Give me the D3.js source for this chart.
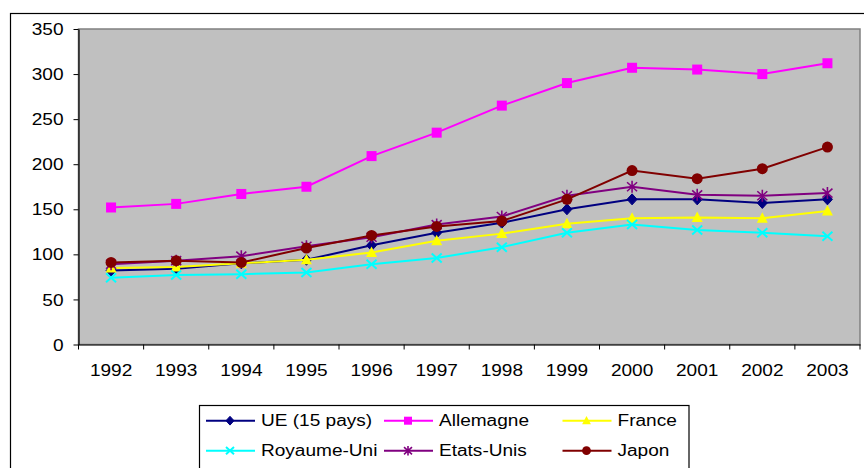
<!DOCTYPE html>
<html><head><meta charset="utf-8">
<script src="https://cdn.jsdelivr.net/npm/d3@7"></script>
<style>
html,body{margin:0;padding:0;background:#fff;}
svg{display:block;}
text{font-family:"Liberation Sans",Arial,sans-serif;font-size:16px;fill:#000;}
</style></head>
<body>
<svg id="c" width="864" height="468"></svg>
<script>
const years = ["1992","1993","1994","1995","1996","1997","1998","1999","2000","2001","2002","2003"];
const yTicks = [0,50,100,150,200,250,300,350];
const ue        = [82, 84, 90, 94, 110, 124, 135, 150, 161, 161, 157, 161];
const allemagne = [152, 156, 167, 175, 209, 235, 265, 290, 307, 305, 300, 312];
const france    = [85, 86, 90, 94, 102, 115, 123, 134, 140, 141, 140, 148];
const royaumeUni= [74, 77, 78, 80, 89, 96, 108, 124, 133, 127, 124, 120];
const etatsUnis = [89, 93, 98, 109, 119, 133, 142, 165, 175, 166, 165, 168];
const japon     = [91, 93, 91, 107, 121, 131, 137, 161, 193, 184, 195, 219];
const seriesNames = ["UE (15 pays)","Allemagne","France","Royaume-Uni","Etats-Unis","Japon"];

const series = [
  {name:seriesNames[0], values:ue,        color:"#000080", marker:"diamond"},
  {name:seriesNames[1], values:allemagne, color:"#FF00FF", marker:"square"},
  {name:seriesNames[2], values:france,    color:"#FFFF00", marker:"triangle"},
  {name:seriesNames[3], values:royaumeUni,color:"#00FFFF", marker:"x"},
  {name:seriesNames[4], values:etatsUnis, color:"#800080", marker:"star"},
  {name:seriesNames[5], values:japon,     color:"#800000", marker:"circle"}
];

const svg = d3.select("#c");
const STRETCH = 1.19;
function stretch(sel){
  sel.each(function(){
    const w = this.getComputedTextLength();
    d3.select(this).attr("textLength", w*STRETCH).attr("lengthAdjust","spacingAndGlyphs");
  });
}

// outer frame
svg.append("rect").attr("x",10.5).attr("y",13.5).attr("width",900).attr("height",600)
  .attr("fill","#fff").attr("stroke","#000").attr("stroke-width",1.2);

const L = 78.5, R = 860, T = 29, B = 344.5;
const x = d3.scaleBand().domain(years).range([L,R]).paddingInner(0).paddingOuter(0);
const y = d3.scaleLinear().domain([0,350]).range([B,T]);

// plot area
svg.append("rect").attr("x",L).attr("y",T).attr("width",R-L).attr("height",B-T)
  .attr("fill","#C0C0C0").attr("stroke","#808080").attr("stroke-width",1.5);

// y axis
const yAxis = svg.append("g").attr("transform",`translate(${L},0)`)
  .call(d3.axisLeft(y).tickValues(yTicks).tickSize(5).tickPadding(10).tickSizeOuter(0));
yAxis.select(".domain").attr("stroke","#000").attr("stroke-width",1.2);
yAxis.selectAll(".tick line").attr("stroke","#000");
yAxis.selectAll("text").attr("font-size",16).attr("font-family","Liberation Sans, Arial, sans-serif").attr("dy","0.35em").call(stretch);

// x axis
const xAxis = svg.append("g").attr("transform",`translate(0,${B})`)
  .call(d3.axisBottom(x).tickSize(0).tickPadding(0).tickSizeOuter(0));
xAxis.select(".domain").attr("stroke","#000").attr("stroke-width",1.2);
xAxis.selectAll(".tick").attr("transform", d => `translate(${x(d)+x.bandwidth()/2},0)`);
xAxis.selectAll("text").attr("y",31).attr("dy",0).attr("font-size",16)
  .attr("font-family","Liberation Sans, Arial, sans-serif").call(stretch);
const bounds = years.map(d => x(d)).concat([x(years[years.length-1])+x.bandwidth()]);
xAxis.selectAll(".bt").data(bounds).enter().append("line")
  .attr("x1",d=>d).attr("x2",d=>d).attr("y1",0).attr("y2",5).attr("stroke","#000");

function drawMarker(g, type, color, s){
  s = s || 1;
  if(type==="diamond"){
    g.append("path").attr("d",`M0,${-5.5*s}L${5*s},0L0,${5.5*s}L${-5*s},0Z`).attr("fill",color).attr("stroke",color);
  } else if(type==="square"){
    g.append("rect").attr("x",-5*s).attr("y",-5*s).attr("width",10*s).attr("height",10*s).attr("fill",color);
  } else if(type==="triangle"){
    g.append("path").attr("d",`M0,${-6*s}L${5.5*s},${4.5*s}L${-5.5*s},${4.5*s}Z`).attr("fill",color);
  } else if(type==="x"){
    g.append("path").attr("d",`M${-5*s},${-4.5*s}L${5*s},${4.5*s}M${-5*s},${4.5*s}L${5*s},${-4.5*s}`).attr("stroke",color).attr("stroke-width",2).attr("fill","none");
  } else if(type==="star"){
    g.append("path").attr("d",`M${-5*s},${-4.5*s}L${5*s},${4.5*s}M${-5*s},${4.5*s}L${5*s},${-4.5*s}M0,${-6*s}L0,${6*s}`).attr("stroke",color).attr("stroke-width",1.6).attr("fill","none");
  } else if(type==="circle"){
    g.append("circle").attr("r",5.5*s).attr("fill",color);
  }
}

const line = d3.line().x((d,i)=>x(years[i])+x.bandwidth()/2).y(d=>y(d));
series.forEach(s=>{
  const g = svg.append("g");
  g.append("path").datum(s.values).attr("d",line).attr("fill","none").attr("stroke",s.color).attr("stroke-width",2);
  s.values.forEach((v,i)=>{
    const m = g.append("g").attr("transform",`translate(${x(years[i])+x.bandwidth()/2},${y(v)})`);
    drawMarker(m, s.marker, s.color, 1);
  });
});

// legend
const lg = svg.append("g");
lg.append("rect").attr("x",199.5).attr("y",405.5).attr("width",489.5).attr("height",100)
  .attr("fill","#fff").attr("stroke","#000").attr("stroke-width",1.2);
const colX = [206, 384, 562.5];
const rowY = [420.7, 450.7];
series.forEach((s,i)=>{
  const cx = colX[i%3], cy = rowY[Math.floor(i/3)];
  const g = lg.append("g").attr("transform",`translate(${cx},${cy})`);
  g.append("line").attr("x1",0).attr("x2",49).attr("y1",0).attr("y2",0).attr("stroke",s.color).attr("stroke-width",2);
  const m = g.append("g").attr("transform","translate(24,0)");
  drawMarker(m, s.marker, s.color, 0.8);
  g.append("text").attr("x",55).attr("y",0).attr("dy","0.36em").text(s.name).call(stretch);
});
</script>
</body></html>
